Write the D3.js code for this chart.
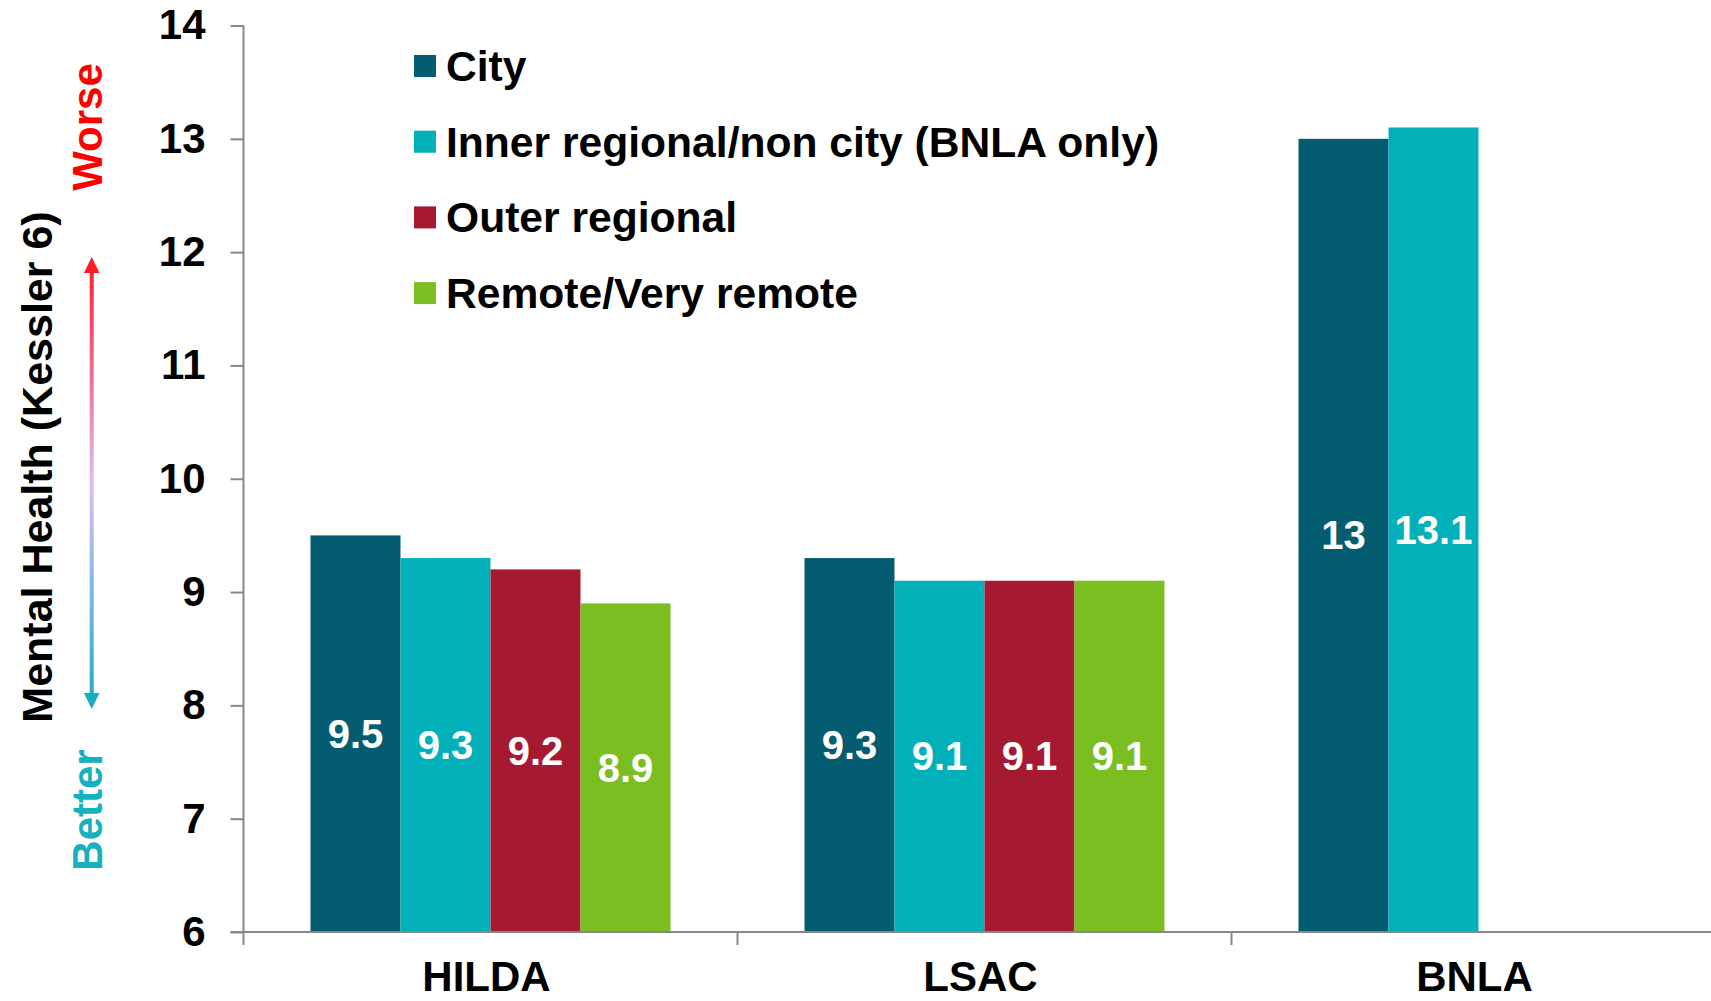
<!DOCTYPE html>
<html>
<head>
<meta charset="utf-8">
<script src="https://cdn.jsdelivr.net/npm/d3@7"></script>
<style>
  body { margin: 0; background: #fff; }
  text { font-family: "Liberation Sans", Arial, sans-serif; font-weight: bold; }
</style>
</head>
<body>
<div id="chart"></div>
<script>
// data
const categories = ['HILDA', 'LSAC', 'BNLA']
const seriesNames = ['City', 'Inner regional/non city (BNLA only)', 'Outer regional', 'Remote/Very remote']
const seriesColors = ['#035c6f', '#02b0b9', '#a61a31', '#7bbe21']
const hildaValues = [9.5, 9.3, 9.2, 8.9]
const lsacValues = [9.3, 9.1, 9.1, 9.1]
const bnlaValues = [13, 13.1, null, null]
const yTicks = [6, 7, 8, 9, 10, 11, 12, 13, 14]

const valuesByCat = { HILDA: hildaValues, LSAC: lsacValues, BNLA: bnlaValues }

const W = 1711, H = 1001
const axisColor = '#888'

const svg = d3.select('#chart')
  .append('svg')
  .attr('width', W)
  .attr('height', H)

// scales
const y = d3.scaleLinear()
  .domain([6, 14])
  .range([932, 25.5])

const x0 = d3.scaleBand()
  .domain(categories)
  .range([243.5, 243.5 + 3 * 494])

const x1 = d3.scaleBand()
  .domain(seriesNames)
  .range([67, x0.bandwidth() - 67])

// y axis
const gy = svg.append('g')
  .attr('transform', `translate(${x0.range()[0]},0)`)
  .call(d3.axisLeft(y).tickValues(yTicks).tickSize(13).tickSizeOuter(0).tickPadding(25))
gy.select('.domain').remove()
gy.selectAll('.tick line').attr('stroke', axisColor).attr('stroke-width', 2)
gy.selectAll('.tick text')
  .attr('fill', '#000')
  .style('font-size', '42px')
  .style('font-family', '"Liberation Sans", Arial, sans-serif')
  .style('font-weight', 'bold')

gy.append('line')
  .attr('x1', 0).attr('x2', 0)
  .attr('y1', y(14)).attr('y2', y(6) + 13)
  .attr('stroke', axisColor)
  .attr('stroke-width', 2)

// bars
const groups = svg.selectAll('.cat')
  .data(categories).enter()
  .append('g')
  .attr('class', 'cat')
  .attr('transform', d => `translate(${x0(d)},0)`)

const barData = c => seriesNames.map((s, i) => ({ s, i, v: valuesByCat[c][i] })).filter(d => d.v != null)

groups.selectAll('rect')
  .data(c => barData(c)).enter()
  .append('rect')
  .attr('x', d => x1(d.s))
  .attr('y', d => y(d.v))
  .attr('width', x1.bandwidth())
  .attr('height', d => y(6) - y(d.v))
  .attr('fill', d => seriesColors[d.i])

groups.selectAll('.val')
  .data(c => barData(c)).enter()
  .append('text')
  .attr('class', 'val')
  .attr('x', d => x1(d.s) + x1.bandwidth() / 2)
  .attr('y', d => (y(d.v) + y(6)) / 2)
  .attr('dy', '0.35em')
  .attr('text-anchor', 'middle')
  .attr('fill', '#fff')
  .style('font-size', '40px')
  .text(d => d.v)

// x axis
svg.append('line')
  .attr('x1', x0.range()[0] - 13).attr('x2', W)
  .attr('y1', y(6)).attr('y2', y(6))
  .attr('stroke', axisColor)
  .attr('stroke-width', 2)

svg.selectAll('.xtick')
  .data(categories.slice(1)).enter()
  .append('line')
  .attr('x1', d => x0(d)).attr('x2', d => x0(d))
  .attr('y1', y(6)).attr('y2', y(6) + 13)
  .attr('stroke', axisColor)
  .attr('stroke-width', 2)

svg.selectAll('.xlab')
  .data(categories).enter()
  .append('text')
  .attr('x', d => x0(d) + x0.bandwidth() / 2 - 4)
  .attr('y', 991)
  .attr('text-anchor', 'middle')
  .style('font-size', '42px')
  .text(d => d)

// legend
const legend = svg.append('g')
  .attr('transform', 'translate(414,66)')

const li = legend.selectAll('g')
  .data(seriesNames).enter()
  .append('g')
  .attr('transform', (d, i) => `translate(0,${i * 75.7})`)

li.append('rect')
  .attr('x', 0).attr('y', -11)
  .attr('width', 22).attr('height', 22)
  .attr('fill', (d, i) => seriesColors[i])

li.append('text')
  .attr('x', 32)
  .attr('dy', '0.35em')
  .style('font-size', '42.6px')
  .text(d => d)

// y title and better/worse arrow
svg.append('text')
  .attr('transform', 'translate(52,467) rotate(-90)')
  .attr('text-anchor', 'middle')
  .style('font-size', '43px')
  .text('Mental Health (Kessler 6)')

svg.append('text')
  .attr('transform', 'translate(102,127) rotate(-90)')
  .attr('text-anchor', 'middle')
  .attr('fill', '#ff0000')
  .style('font-size', '42px')
  .text('Worse')

svg.append('text')
  .attr('transform', 'translate(102,810) rotate(-90)')
  .attr('text-anchor', 'middle')
  .attr('fill', '#17b0bf')
  .style('font-size', '42px')
  .text('Better')

const defs = svg.append('defs')
const grad = defs.append('linearGradient')
  .attr('id', 'arrowGrad')
  .attr('gradientUnits', 'userSpaceOnUse')
  .attr('x1', 0).attr('y1', 258).attr('x2', 0).attr('y2', 708)
grad.append('stop').attr('offset', '0%').attr('stop-color', '#ff1a2a')
grad.append('stop').attr('offset', '25%').attr('stop-color', '#f06a90')
grad.append('stop').attr('offset', '50%').attr('stop-color', '#dcbdf8')
grad.append('stop').attr('offset', '75%').attr('stop-color', '#78b8dc')
grad.append('stop').attr('offset', '100%').attr('stop-color', '#17aebe')

svg.append('rect')
  .attr('x', 89.7).attr('y', 270)
  .attr('width', 4).attr('height', 426)
  .attr('fill', 'url(#arrowGrad)')

svg.append('path')
  .attr('d', 'M91.7,257 L99.5,273 L83.9,273 Z')
  .attr('fill', '#ff1a2a')

svg.append('path')
  .attr('d', 'M91.7,709 L99.5,693 L83.9,693 Z')
  .attr('fill', '#17aebe')
</script>
</body>
</html>
